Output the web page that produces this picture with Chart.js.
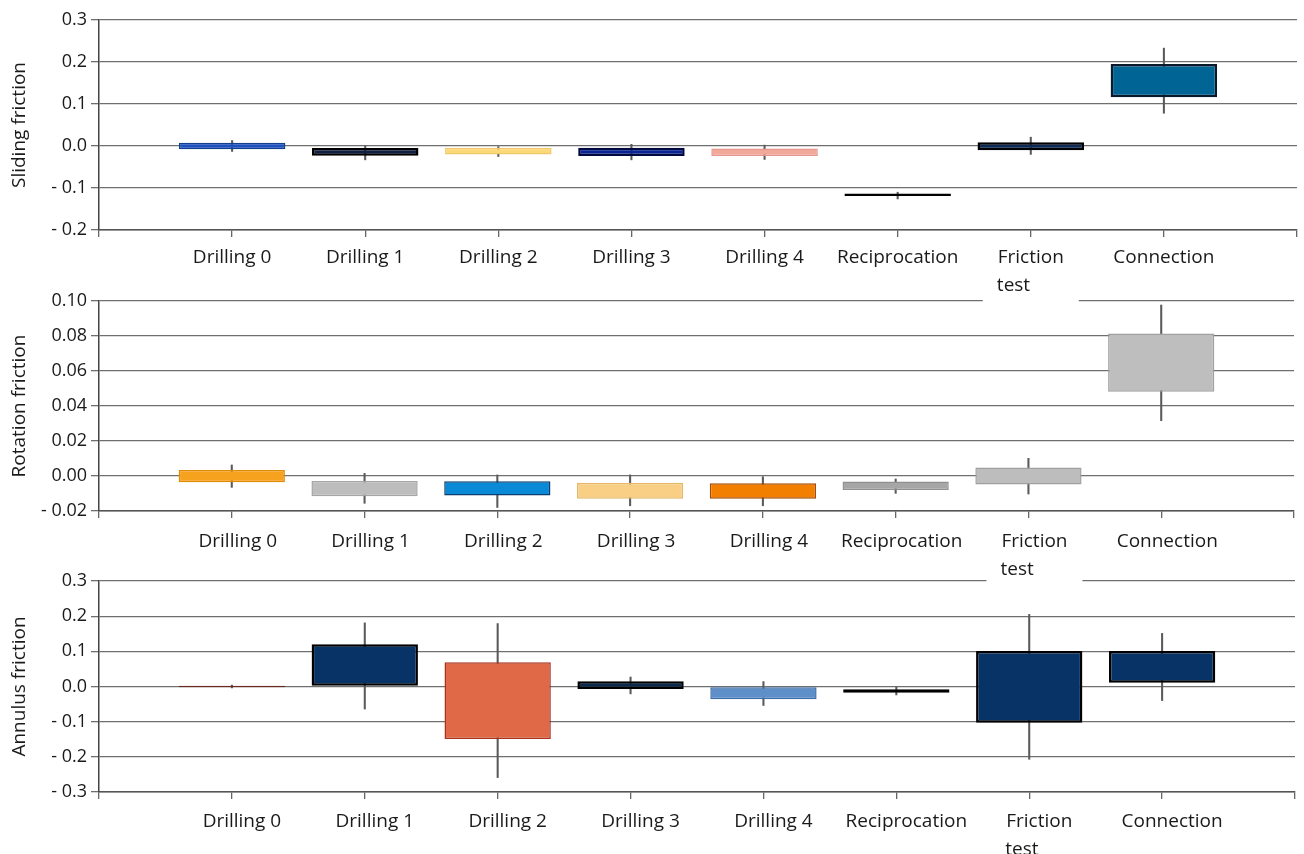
<!DOCTYPE html>
<html>
<head>
<meta charset="utf-8">
<script src="https://cdn.jsdelivr.net/npm/chart.js@4.4.1/dist/chart.umd.min.js"></script>
<style>
  html, body { margin: 0; padding: 0; background: #fff; }
  #wrap { position: relative; width: 1304px; height: 854px; overflow: hidden; }
  .panel { position: absolute; left: 0; }
</style>
</head>
<body>
<div id="wrap">
  <canvas id="sliding" class="panel" width="1304" height="310" style="top:0;z-index:3"></canvas>
  <canvas id="rotation" class="panel" width="1304" height="310" style="top:281px;z-index:2"></canvas>
  <canvas id="annulus" class="panel" width="1304" height="293" style="top:561px;z-index:1"></canvas>
</div>
<script>
// Operation phases along the x axis (blank slots at both ends of the axis)
const categories = ['', 'Drilling 0', 'Drilling 1', 'Drilling 2', 'Drilling 3', 'Drilling 4',
  'Reciprocation', ['Friction', 'test       '], 'Connection', ''];

// Sliding friction: box (low/high) and whisker (low/high) per phase
const slidingBoxLow    = [-0.008, -0.023, -0.020, -0.024, -0.024, -0.119, -0.010, 0.116];
const slidingBoxHigh   = [ 0.008, -0.005, -0.004, -0.004, -0.006, -0.113,  0.009, 0.195];
const slidingWhiskLow  = [-0.013, -0.033, -0.025, -0.033, -0.032, -0.126, -0.020, 0.078];
const slidingWhiskHigh = [ 0.013,  0.001,  0.000,  0.004,  0.002, -0.110,  0.021, 0.233];
const slidingTickValues = [-0.2, -0.1, 0, 0.1, 0.2, 0.3];
const slidingTickLabels = ['- 0.2', '- 0.1', '0.0', '0.1', '0.2', '0.3'];

// Rotation friction
const rotationBoxLow    = [-0.0036, -0.0116, -0.0112, -0.0130, -0.0130, -0.0080, -0.0048, 0.0482];
const rotationBoxHigh   = [ 0.0034, -0.0029, -0.0030, -0.0038, -0.0042, -0.0032,  0.0048, 0.0815];
const rotationWhiskLow  = [-0.0065, -0.0156, -0.0180, -0.0170, -0.0170, -0.0099, -0.0103, 0.0316];
const rotationWhiskHigh = [ 0.0063,  0.0015,  0.0006,  0.0006, -0.0004, -0.0017,  0.0101, 0.0977];
const rotationTickValues = [-0.02, 0, 0.02, 0.04, 0.06, 0.08, 0.10];
const rotationTickLabels = ['- 0.02', '0.00', '0.02', '0.04', '0.06', '0.08', '0.10'];

// Annulus friction
const annulusBoxLow    = [-0.002, 0.002, -0.149, -0.007, -0.036, -0.018, -0.103, 0.011];
const annulusBoxHigh   = [ 0.002, 0.120,  0.069,  0.015,  0.000, -0.008,  0.101, 0.101];
const annulusWhiskLow  = [-0.004, -0.064, -0.259, -0.021, -0.054, -0.024, -0.207, -0.040];
const annulusWhiskHigh = [ 0.004,  0.181,  0.179,  0.027,  0.014, -0.001,  0.205,  0.151];
const annulusTickValues = [-0.3, -0.2, -0.1, 0, 0.1, 0.2, 0.3];
const annulusTickLabels = ['- 0.3', '- 0.2', '- 0.1', '0.0', '0.1', '0.2', '0.3'];

// Box fill / outline colours per phase
const slidingFill   = ['#1f52bf', '#0f1f45', '#fbd97a', '#0a2496', '#f2a99a', '#111111', '#0c2a55', '#006595'];
const slidingEdge   = ['#123f8e', '#000000', '#f1c866', '#000a40', '#e4978a', '#000000', '#000000', '#0a1a2a'];
const rotationFill  = ['#f7a21e', '#bdbdbd', '#0a8ad6', '#f9cf85', '#f27f00', '#a6a6a6', '#bdbdbd', '#bebebe'];
const rotationEdge  = ['#e08a00', '#a5a5a5', '#0b3d6e', '#e5b86a', '#a84a00', '#909090', '#a0a0a0', '#a0a0a0'];
const annulusFill   = ['#6b2a1e', '#073366', '#e06a47', '#0b2a4f', '#5f8fc8', '#111111', '#073366', '#073366'];
const annulusEdge   = ['#6b2a1e', '#000000', '#a8321c', '#000000', '#3e6ea8', '#000000', '#000000', '#000000'];

const FAMILY = "'Open Sans', 'Noto Sans', sans-serif";
const TEXT = '#1a1a1a';

function pairs(lo, hi) {
  return [null, ...lo.map((v, i) => [v, hi[i]]), null];
}
function pad(arr) {
  return [null, ...arr, null];
}

// Clears a white patch behind the two-line "Friction / test" label so it
// stays readable where it runs into the panel below.
const labelPatch = {
  id: 'labelPatch',
  beforeDraw(chart, args, opts) {
    if (!opts.enabled) return;
    const xs = chart.scales.x;
    const idx = categories.findIndex(c => Array.isArray(c));
    const cx = xs.getPixelForTick(idx) + opts.shift;
    const top = chart.chartArea.bottom + 9;
    const ctx = chart.ctx;
    ctx.save();
    ctx.fillStyle = '#ffffff';
    ctx.fillRect(cx - 48, top, 96, chart.height - top);
    ctx.restore();
  }
};

function makePanel(id, cfg) {
  const edgeWidth = cfg.edge.map(c => (c === '#000000' || c === '#0a1a2a' || c === '#000a40') ? 2.5 : 1.5);
  return new Chart(document.getElementById(id), {
    type: 'bar',
    plugins: [labelPatch],
    data: {
      labels: categories,
      datasets: [
        {
          // whiskers: thin floating bars drawn underneath the boxes
          data: pairs(cfg.wLo, cfg.wHi),
          backgroundColor: '#5a5a5a',
          borderWidth: 0,
          barThickness: 1.4,
          grouped: false,
          order: 1
        },
        {
          data: pairs(cfg.bLo, cfg.bHi),
          backgroundColor: pad(cfg.fill),
          borderColor: pad(cfg.edge),
          borderWidth: pad(edgeWidth),
          borderSkipped: false,
          categoryPercentage: 1,
          barPercentage: 0.8,
          grouped: false,
          order: 0
        }
      ]
    },
    options: {
      responsive: false,
      animation: false,
      devicePixelRatio: 1,
      layout: { padding: { top: 20, right: 4, bottom: 0, left: 0 } },
      plugins: {
        legend: { display: false },
        tooltip: { enabled: false },
        labelPatch: { enabled: cfg.patch, shift: cfg.xShift }
      },
      scales: {
        x: {
          type: 'category',
          offset: false,
          afterFit: s => { s.height = cfg.xHeight; },
          grid: { display: true, offset: false, drawOnChartArea: false, drawTicks: true, tickLength: 7, color: '#666666', lineWidth: 1.3 },
          border: { display: true, color: '#555555', width: 1.5 },
          ticks: {
            autoSkip: false,
            maxRotation: 0,
            minRotation: 0,
            padding: cfg.xPad,
            labelOffset: cfg.xShift,
            color: TEXT,
            font: { family: FAMILY, size: 19, lineHeight: 1.45 }
          }
        },
        y: {
          min: cfg.ticks[0],
          max: cfg.ticks[cfg.ticks.length - 1],
          afterFit: s => { s.width = 99; },
          afterBuildTicks: s => { s.ticks = cfg.ticks.map(v => ({ value: v })); },
          grid: { color: '#6f6f6f', lineWidth: 1.3, drawTicks: true, tickLength: 8 },
          border: { display: true, color: '#444444', width: 1.5 },
          ticks: {
            padding: 4,
            color: TEXT,
            font: { family: FAMILY, size: 18 },
            callback: (v, i) => cfg.tickLabels[i]
          },
          title: {
            display: true,
            text: cfg.title,
            color: TEXT,
            font: { family: FAMILY, size: 19 },
            padding: { top: 8, bottom: 0 }
          }
        }
      }
    }
  });
}

makePanel('sliding', {
  title: 'Sliding friction',
  bLo: slidingBoxLow, bHi: slidingBoxHigh, wLo: slidingWhiskLow, wHi: slidingWhiskHigh,
  fill: slidingFill, edge: slidingEdge,
  ticks: slidingTickValues, tickLabels: slidingTickLabels,
  xHeight: 80, xPad: 7, xShift: 0, patch: true
});
makePanel('rotation', {
  title: 'Rotation friction',
  bLo: rotationBoxLow, bHi: rotationBoxHigh, wLo: rotationWhiskLow, wHi: rotationWhiskHigh,
  fill: rotationFill, edge: rotationEdge,
  ticks: rotationTickValues, tickLabels: rotationTickLabels,
  xHeight: 80, xPad: 10, xShift: 6, patch: true
});
makePanel('annulus', {
  title: 'Annulus friction',
  bLo: annulusBoxLow, bHi: annulusBoxHigh, wLo: annulusWhiskLow, wHi: annulusWhiskHigh,
  fill: annulusFill, edge: annulusEdge,
  ticks: annulusTickValues, tickLabels: annulusTickLabels,
  xHeight: 62, xPad: 9, xShift: 10, patch: false
});
</script>
</body>
</html>
